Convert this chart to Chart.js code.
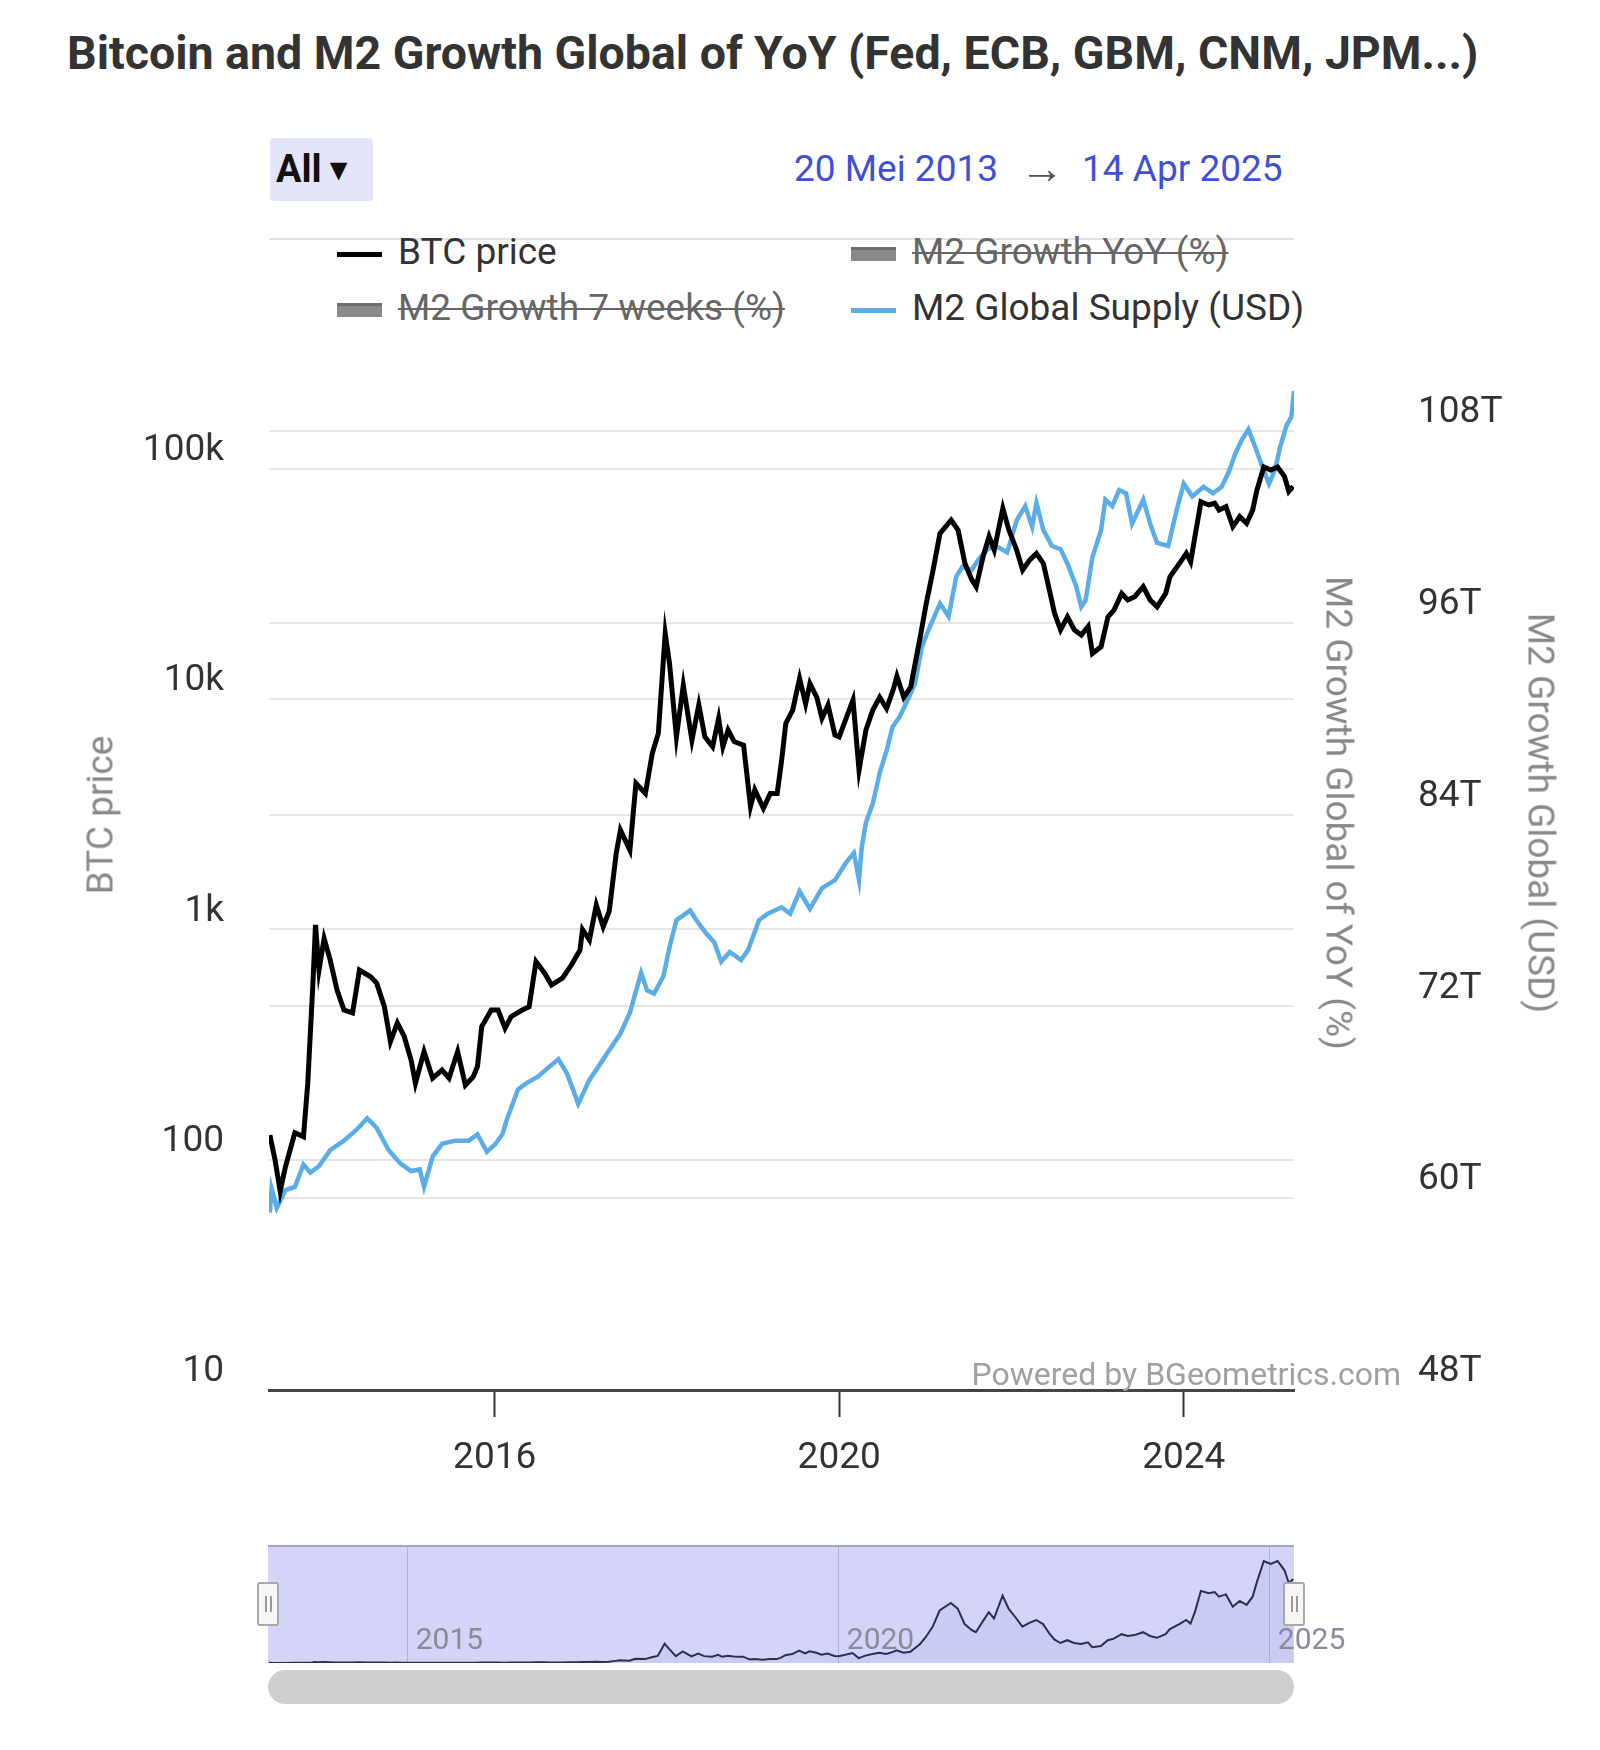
<!DOCTYPE html>
<html>
<head>
<meta charset="utf-8">
<title>Bitcoin and M2 Growth Global of YoY</title>
<script src="https://cdn.jsdelivr.net/npm/chart.js@4.4.1/dist/chart.umd.min.js"></script>
<style>
  body { margin: 0; width: 1600px; height: 1750px; background: #fff; font-family: Roboto, "Noto Sans", sans-serif; position: relative; overflow: hidden; }
  .abs { position: absolute; }
  #title { left: 67px; top: 30px; font-weight: 700; font-size: 46.5px; line-height: 1; color: #333; white-space: nowrap; }
  #rangeBtn { left: 270px; top: 138px; width: 103px; height: 63px; background: #e4e5fa; border-radius: 4px; font-weight: 700; font-size: 38px; line-height: 63px; color: #111; padding-left: 6px; box-sizing: border-box; white-space: nowrap; }
  #rangeBtn span { font-size: 30px; vertical-align: 2px; margin-left: 2px; }
  #dates { left: 794px; top: 146px; font-size: 37px; line-height: 1; color: #3f4fd8; white-space: nowrap; }
  #dates .arrow { color: #555; font-size: 44px; margin: 0 18px 0 22px; vertical-align: -2px; }
  #sep { left: 269px; top: 238px; width: 1025px; height: 2px; background: #e2e2e2; }
  #legend { left: 337px; top: 224px; display: grid; grid-template-columns: 514px auto; }
  .item { height: 56px; line-height: 56px; font-size: 37px; color: #333; white-space: nowrap; }
  .item .ico { display: inline-block; width: 45px; margin-right: 16px; vertical-align: middle; }
  .item.off .txt { color: #666; text-decoration: line-through; text-decoration-thickness: 2px; }
  .axisTitle { font-size: 37px; line-height: 1; color: #888; white-space: nowrap; transform-origin: center; }
  #mainWrap { left: 0; top: 330px; width: 1600px; height: 1190px; }
  #powered { right: 199px; top: 1358px; font-size: 32px; line-height: 1; color: #a0a0a0; white-space: nowrap; }
  #navBox { left: 268px; top: 1545px; width: 1026px; height: 118px; background: #d3d4f8; border-top: 2px solid #a6a6b8; box-sizing: border-box; }
  #navWrap { left: 268px; top: 1547px; width: 1130px; height: 116px; }
  .grip { top: 1582px; width: 22px; height: 44px; background: #f6f6f6; border: 2px solid #a8a8a8; border-radius: 3px; box-sizing: border-box; }
  .grip::before, .grip::after { content: ""; position: absolute; top: 12px; width: 2px; height: 16px; background: #999; }
  .grip::before { left: 6px; }
  .grip::after { left: 11px; }
  #scroll { left: 268px; top: 1670px; width: 1026px; height: 34px; background: #cfcfcf; border-radius: 17px; }
</style>
</head>
<body>
<div id="title" class="abs">Bitcoin and M2 Growth Global of YoY (Fed, ECB, GBM, CNM, JPM...)</div>
<div id="rangeBtn" class="abs">All<span>&#9660;</span></div>
<div id="dates" class="abs">20 Mei 2013<span class="arrow">&rarr;</span>14 Apr 2025</div>
<div id="sep" class="abs"></div>
<div id="legend" class="abs"></div>
<div id="mainWrap" class="abs"><canvas id="mainChart"></canvas></div>
<div class="abs axisTitle" id="tBtc">BTC price</div>
<div class="abs axisTitle" id="tYoY">M2 Growth Global of YoY (%)</div>
<div class="abs axisTitle" id="tUsd">M2 Growth Global (USD)</div>
<div id="powered" class="abs">Powered by BGeometrics.com</div>
<div id="navBox" class="abs"></div>
<div id="navWrap" class="abs"><canvas id="navChart"></canvas></div>
<div class="abs grip" style="left:257px"></div>
<div class="abs grip" style="left:1283px"></div>
<div id="scroll" class="abs"></div>

<script>
// BTC price (USD), dates as decimal years
const btcYears = [
  2013.39, 2013.45, 2013.51, 2013.57, 2013.68, 2013.78, 2013.83, 2013.89, 2013.92, 2013.96,
  2014.02, 2014.09, 2014.17, 2014.25, 2014.35, 2014.43, 2014.56, 2014.63, 2014.72, 2014.79,
  2014.87, 2014.95, 2015.03, 2015.08, 2015.18, 2015.28, 2015.39, 2015.47, 2015.57, 2015.66,
  2015.75, 2015.80, 2015.85, 2015.96, 2016.04, 2016.12, 2016.19, 2016.32, 2016.40, 2016.48,
  2016.58, 2016.66, 2016.79, 2016.89, 2016.99, 2017.02, 2017.10, 2017.18, 2017.26, 2017.33,
  2017.41, 2017.46, 2017.57, 2017.64, 2017.75, 2017.83, 2017.90, 2017.98, 2018.03, 2018.11,
  2018.19, 2018.29, 2018.37, 2018.44, 2018.53, 2018.60, 2018.65, 2018.71, 2018.78, 2018.89,
  2018.97, 2019.02, 2019.12, 2019.20, 2019.28, 2019.33, 2019.38, 2019.46, 2019.54, 2019.61,
  2019.66, 2019.74, 2019.80, 2019.87, 2019.95, 2020.00, 2020.16, 2020.23, 2020.31, 2020.39,
  2020.47, 2020.55, 2020.63, 2020.67, 2020.75, 2020.83, 2020.94, 2021.01, 2021.09, 2021.17,
  2021.30, 2021.38, 2021.46, 2021.54, 2021.59, 2021.67, 2021.74, 2021.80, 2021.90, 2021.97,
  2022.06, 2022.13, 2022.21, 2022.29, 2022.37, 2022.44, 2022.50, 2022.57, 2022.65, 2022.73,
  2022.81, 2022.89, 2022.94, 2023.04, 2023.12, 2023.19, 2023.28, 2023.35, 2023.43, 2023.53,
  2023.61, 2023.69, 2023.79, 2023.84, 2023.95, 2024.03, 2024.08, 2024.13, 2024.20, 2024.29,
  2024.36, 2024.41, 2024.49, 2024.57, 2024.65, 2024.73, 2024.80, 2024.85, 2024.93, 2025.01,
  2025.09, 2025.17, 2025.22, 2025.27
];
const btcPrice = [
  128, 100, 73, 93, 131, 126, 215, 585, 1047, 664,
  913, 738, 546, 447, 434, 666, 623, 585, 462, 326,
  393, 343, 271, 215, 295, 226, 245, 226, 295, 211,
  229, 254, 379, 447, 447, 373, 418, 447, 462, 725,
  646, 574, 616, 701, 813, 1000, 900, 1277, 1028, 1200,
  2130, 2700, 2213, 4313, 3900, 5820, 7110, 19300, 14300, 6870,
  11500, 6650, 9440, 6870, 6220, 8260, 6220, 7350, 6550, 6310,
  3420, 4040, 3360, 3900, 3900, 5370, 7850, 8970, 12300, 9550,
  11700, 10200, 8260, 9440, 7000, 6870, 9930, 4930, 7350, 8970,
  10200, 9120, 11100, 12600, 10200, 11300, 18600, 26000, 36400, 52500,
  60000, 54300, 38900, 33000, 30800, 41600, 50900, 44500, 67400, 54300,
  44500, 36400, 40200, 43000, 38900, 29800, 23600, 20000, 22800, 20000,
  19000, 20700, 15800, 16900, 22800, 24400, 28800, 27000, 27900, 30800,
  27000, 25200, 28800, 34000, 38900, 43000, 39500, 50900, 72100, 69800,
  71000, 66300, 68600, 56200, 62100, 58100, 66300, 81100, 102000, 99000,
  102000, 92700, 79900, 84000
];

// M2 Global Supply (trillion USD)
const m2Years = [
  2013.39, 2013.41, 2013.47, 2013.57, 2013.68, 2013.78, 2013.86, 2013.96, 2014.09, 2014.25,
  2014.40, 2014.52, 2014.63, 2014.77, 2014.90, 2015.03, 2015.13, 2015.18, 2015.28, 2015.39,
  2015.54, 2015.70, 2015.80, 2015.91, 2016.01, 2016.09, 2016.14, 2016.27, 2016.37, 2016.50,
  2016.63, 2016.74, 2016.84, 2016.97, 2017.10, 2017.20, 2017.31, 2017.46, 2017.57, 2017.70,
  2017.77, 2017.85, 2017.96, 2018.03, 2018.11, 2018.27, 2018.34, 2018.45, 2018.55, 2018.63,
  2018.73, 2018.86, 2018.94, 2019.07, 2019.17, 2019.33, 2019.43, 2019.54, 2019.66, 2019.80,
  2019.95, 2020.08, 2020.17, 2020.23, 2020.26, 2020.31, 2020.39, 2020.47, 2020.55, 2020.62,
  2020.70, 2020.78, 2020.88, 2020.96, 2021.04, 2021.17, 2021.27, 2021.36, 2021.43, 2021.54,
  2021.61, 2021.72, 2021.82, 2021.95, 2022.06, 2022.16, 2022.24, 2022.29, 2022.37, 2022.47,
  2022.57, 2022.65, 2022.75, 2022.81, 2022.86, 2022.94, 2023.04, 2023.09, 2023.17, 2023.25,
  2023.33, 2023.40, 2023.53, 2023.61, 2023.69, 2023.82, 2023.92, 2024.00, 2024.10, 2024.23,
  2024.34, 2024.44, 2024.52, 2024.60, 2024.67, 2024.75, 2024.83, 2024.91, 2024.99, 2025.06,
  2025.12, 2025.19, 2025.25, 2025.28
];
const m2Supply = [
  59.1, 60.6, 59.4, 60.5, 60.7, 62.1, 61.6, 62.0, 63.0, 63.6,
  64.3, 65.0, 64.4, 63.0, 62.2, 61.7, 61.8, 60.7, 62.6, 63.4,
  63.6, 63.6, 64.0, 62.9, 63.4, 64.0, 64.9, 66.8, 67.2, 67.6,
  68.2, 68.7, 67.8, 65.9, 67.4, 68.2, 69.1, 70.3, 71.6, 74.1,
  73.0, 72.8, 73.9, 75.7, 77.4, 78.0, 77.4, 76.6, 76.0, 74.8,
  75.4, 74.9, 75.5, 77.4, 77.8, 78.2, 77.8, 79.2, 78.1, 79.4,
  79.9, 81.0, 81.6, 79.9, 81.9, 83.5, 84.7, 86.6, 88.0, 89.5,
  90.1, 91.0, 92.2, 94.5, 95.6, 97.2, 96.4, 98.9, 99.5, 99.3,
  99.9, 100.6, 100.8, 100.4, 102.4, 103.3, 102.0, 103.5, 101.8, 100.8,
  100.6, 99.7, 98.3, 97.0, 97.4, 100.1, 101.8, 103.7, 103.3, 104.3,
  104.1, 102.2, 103.7, 102.2, 101.0, 100.8, 103.1, 104.7, 103.9, 104.5,
  104.1, 104.5, 105.4, 106.6, 107.4, 108.1, 107.0, 105.8, 104.7, 105.6,
  107.0, 108.3, 108.9, 110.5
];

// Axis ticks
const xTickYears = [2016, 2020, 2024];
const btcTicks = [10, 100, 1000, 10000, 100000];
const m2Ticks = [48, 60, 72, 84, 96, 108];
const navTickYears = [2015, 2020, 2025];

const startYear = 2013.38;
const endYear = 2025.28;

function toPoints(xs, ys) {
  return xs.map((x, i) => ({ x: x, y: ys[i] }));
}

// Axis titles sit a little above the plot's middle, so place them by hand
function placeTitle(id, cx, cy, deg) {
  const el = document.getElementById(id);
  el.style.left = cx + "px";
  el.style.top = cy + "px";
  el.style.transform = "translate(-50%, -50%) rotate(" + deg + "deg)";
}
placeTitle("tBtc", 100, 815, -90);
placeTitle("tYoY", 1339, 813, 90);
placeTitle("tUsd", 1541, 813, 90);

const tickFont = { family: "Roboto", size: 37 };

// drop the label half-height + padding that Chart.js adds above the plot
function noVerticalPad(scale) {
  scale.paddingTop = 0;
  scale.paddingBottom = 0;
}

const mainChart = new Chart(document.getElementById("mainChart"), {
  type: "line",
  data: {
    datasets: [
      {
        label: "BTC price",
        data: toPoints(btcYears, btcPrice),
        yAxisID: "y",
        borderColor: "#000000",
        borderWidth: 5,
        pointRadius: 0,
        tension: 0,
      },
      {
        label: "M2 Growth YoY (%)",
        data: [],
        yAxisID: "yYoY",
        borderColor: "#888888",
        hidden: true,
      },
      {
        label: "M2 Growth 7 weeks (%)",
        data: [],
        yAxisID: "yYoY",
        borderColor: "#888888",
        hidden: true,
      },
      {
        label: "M2 Global Supply (USD)",
        data: toPoints(m2Years, m2Supply),
        yAxisID: "yUSD",
        borderColor: "#5aade8",
        borderWidth: 4.5,
        pointRadius: 0,
        tension: 0,
      },
    ],
  },
  options: {
    responsive: true,
    maintainAspectRatio: false,
    animation: false,
    layout: { padding: { top: 53, left: 0, right: 0, bottom: 0 } },
    plugins: {
      legend: { display: false },
      tooltip: { enabled: false },
    },
    scales: {
      x: {
        type: "linear",
        min: startYear,
        max: endYear,
        afterBuildTicks: (scale) => {
          scale.ticks = xTickYears.map((v) => ({ value: v }));
        },
        afterFit: (scale) => {
          scale.height = 130;
        },
        grid: {
          drawOnChartArea: false,
          drawTicks: true,
          tickLength: 27,
          tickColor: "#333",
          tickWidth: 2,
        },
        border: { display: true, color: "#444", width: 3 },
        ticks: {
          color: "#333",
          font: tickFont,
          padding: 20,
          maxRotation: 0,
          callback: (v) => String(v),
        },
      },
      y: {
        type: "logarithmic",
        position: "left",
        min: 10,
        max: 236300,
        afterBuildTicks: (scale) => {
          scale.ticks = btcTicks.map((v) => ({ value: v }));
        },
        afterFit: (scale) => {
          scale.width = 269;
          noVerticalPad(scale);
        },
        grid: { color: "#e6e6e6", lineWidth: 2, drawTicks: false },
        border: { display: false },
        ticks: {
          color: "#333",
          font: tickFont,
          padding: 45,
          labelOffset: -18,
          callback: (v) => (v >= 1000 ? v / 1000 + "k" : String(v)),
        },
      },
      yYoY: {
        type: "linear",
        position: "right",
        afterFit: (scale) => {
          scale.width = 80;
          noVerticalPad(scale);
        },
        grid: { display: false, drawTicks: false },
        border: { display: false },
        ticks: { display: false },
      },
      yUSD: {
        type: "linear",
        position: "right",
        min: 48,
        max: 111.0,
        afterBuildTicks: (scale) => {
          scale.ticks = m2Ticks.map((v) => ({ value: v }));
        },
        afterFit: (scale) => {
          scale.width = 226;
          noVerticalPad(scale);
        },
        grid: { color: "#e6e6e6", lineWidth: 2, drawTicks: false },
        border: { display: false },
        ticks: {
          color: "#333",
          font: tickFont,
          padding: 44,
          labelOffset: -18,
          callback: (v) => v + "T",
        },
      },
    },
  },
});

// Legend built from the chart's datasets (hidden ones are struck through)
const legendEl = document.getElementById("legend");
mainChart.data.datasets.forEach((ds, i) => {
  const visible = mainChart.isDatasetVisible(i);
  const item = document.createElement("div");
  item.className = "item" + (visible ? "" : " off");
  const ico = document.createElement("span");
  ico.className = "ico";
  if (visible) {
    ico.style.height = "5px";
    ico.style.background = ds.borderColor;
  } else {
    ico.style.height = "11px";
    ico.style.background = "#8a8a8a";
    ico.style.borderTop = "3px solid #6e6e6e";
  }
  const txt = document.createElement("span");
  txt.className = "txt";
  txt.textContent = ds.label;
  item.appendChild(ico);
  item.appendChild(txt);
  legendEl.appendChild(item);
});

// Navigator labels drawn inside the plot, just right of each grid line
const navLabels = {
  id: "navLabels",
  afterDatasetsDraw(chart) {
    const { ctx, chartArea, scales } = chart;
    ctx.save();
    ctx.font = "30px Roboto";
    ctx.fillStyle = "#8a8a9a";
    ctx.textBaseline = "middle";
    ctx.textAlign = "left";
    scales.x.ticks.forEach((t) => {
      ctx.fillText(String(t.value), scales.x.getPixelForValue(t.value) + 8, chartArea.bottom - 22);
    });
    ctx.restore();
  },
};

new Chart(document.getElementById("navChart"), {
  type: "line",
  data: {
    datasets: [
      {
        label: "BTC price",
        data: toPoints(btcYears, btcPrice),
        borderColor: "#2d2d52",
        borderWidth: 2,
        pointRadius: 0,
        tension: 0,
        fill: "origin",
        backgroundColor: "rgba(90, 90, 170, 0.07)",
      },
    ],
  },
  options: {
    responsive: true,
    maintainAspectRatio: false,
    animation: false,
    layout: { padding: { left: 0, top: 0, bottom: 0, right: 104 } },
    plugins: { legend: { display: false }, tooltip: { enabled: false } },
    scales: {
      x: {
        type: "linear",
        min: startYear,
        max: endYear,
        afterBuildTicks: (scale) => {
          scale.ticks = navTickYears.map((v) => ({ value: v }));
        },
        afterFit: (scale) => {
          scale.height = 0;
        },
        grid: { color: "#b0b2de", lineWidth: 1, drawTicks: false },
        border: { display: false },
        ticks: { display: false },
      },
      y: {
        display: false,
        min: 0,
        max: 116000,
      },
    },
  },
  plugins: [navLabels],
});
</script>
</body>
</html>
